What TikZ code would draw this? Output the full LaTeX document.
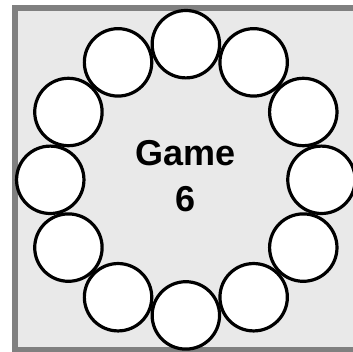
\documentclass[tikz,border=0pt]{standalone}
\usepackage{fontspec}
\setmainfont{Liberation Sans}
\usetikzlibrary{calc}
\definecolor{panelfill}{HTML}{E9E9E9}
\definecolor{panelborder}{HTML}{808080}
\tikzset{
  seat/.style={circle, draw=black, fill=white, line width=3.2pt, minimum size=67.4pt, inner sep=0pt},
  panel/.style={draw=panelborder, fill=panelfill, line width=6pt},
  title/.style={font=\fontsize{36}{45.5}\selectfont\bfseries, align=center, inner sep=0pt, text=black}
}
\begin{document}
\begin{tikzpicture}[x=1pt,y=1pt]
\useasboundingbox (0,0) rectangle (353,351);
\clip (0,0) rectangle (353,351);
\fill[white] (0,0) rectangle (353,351);
\draw[panel] (15,343) rectangle (356.2,1);
\coordinate (ring) at (185.85,171.2);
\foreach \i in {0,...,11} {
  \node[seat] (c\i) at ($(ring)+({90-30*\i}:135.6)$) {};
}
\node[title] (label) at (185.7,175) {Game\\6};
\end{tikzpicture}
\end{document}
